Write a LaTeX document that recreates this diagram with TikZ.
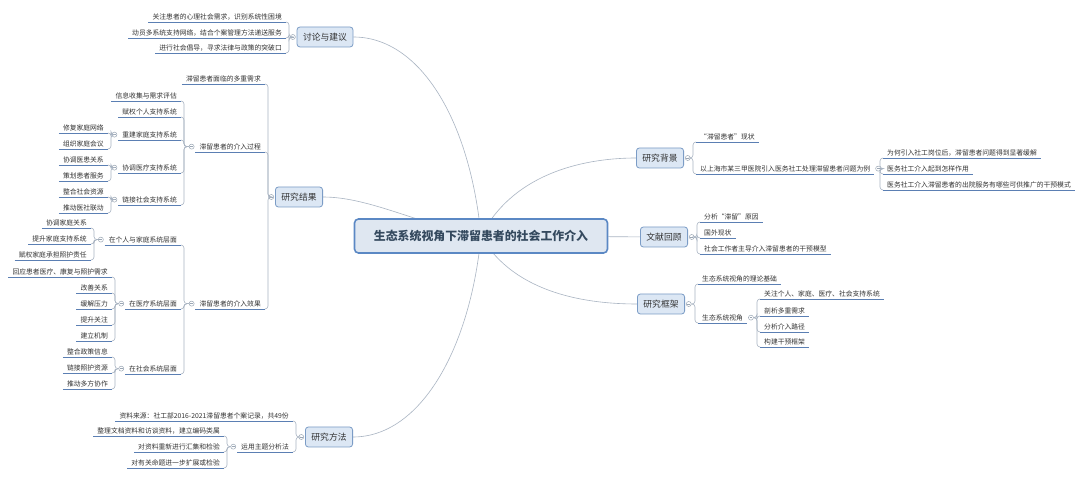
\documentclass[tikz,border=0pt]{standalone}
\usepackage{fontspec}
\newfontfamily\cjk{Noto Sans CJK SC}
\usetikzlibrary{positioning, calc, backgrounds}
\definecolor{rootfill}{HTML}{DFE7F1}
\definecolor{rootborder}{HTML}{5B88C4}
\definecolor{roottext}{HTML}{34495E}
\definecolor{topicfill}{HTML}{DCE7F4}
\definecolor{topicborder}{HTML}{7B9CC6}
\definecolor{ulineblue}{HTML}{5B7FB3}
\definecolor{linegray}{HTML}{A9B4C2}
\definecolor{textgray}{HTML}{333333}
\definecolor{togglegray}{HTML}{9AA6B4}

\begin{document}
\begin{tikzpicture}[x=1pt, y=-1pt,
    rootbox/.style={draw=rootborder, fill=rootfill, line width=1.6pt,
      rounded corners=4pt, minimum width=253pt, minimum height=34pt,
      font=\cjk\bfseries\fontsize{11.9}{14}\selectfont, text=roottext},
    topic/.style={draw=topicborder, fill=topicfill, line width=0.8pt,
      rounded corners=3pt, minimum height=20pt, inner xsep=6pt,
      font=\cjk\fontsize{8.8}{10}\selectfont, text=textgray},
    leaf/.style={inner xsep=4pt, inner ysep=2pt,
      font=\cjk\fontsize{6.8}{8}\selectfont, text=textgray},
    lleaf/.style={leaf, anchor=south east},
    rleaf/.style={leaf, anchor=south west},
    toggle/.style={circle, draw=togglegray, fill=white, line width=0.5pt,
      minimum size=5pt, inner sep=0pt,
      path picture={\draw[togglegray, line width=0.5pt]
        ([xshift=-1.4pt]path picture bounding box.center) --
        ([xshift=1.4pt]path picture bounding box.center);}},
    mainline/.style={draw=linegray, line width=0.6pt},
    conn/.style={draw=linegray, line width=0.6pt, rounded corners=3pt},
    uline/.style={draw=ulineblue, line width=0.9pt}
  ]
  \useasboundingbox (0,0) rectangle (1080,478);

  \node[rootbox] (root) at (481,236) {生态系统视角下滞留患者的社会工作介入};
  \node[topic] (tl) at (325,37) {讨论与建议};
  \node[topic] (res) at (299,197) {研究结果};
  \node[topic] (meth) at (329,437) {研究方法};
  \node[topic] (bg) at (660,158) {研究背景};
  \node[topic] (lit) at (664,237) {文献回顾};
  \node[topic] (fw) at (661,304) {研究框架};

  \node[lleaf] (d1) at (286,22) {关注患者的心理社会需求，识别系统性困境};
  \node[lleaf] (d2) at (286,38) {动员多系统支持网络，结合个案管理方法递送服务};
  \node[lleaf] (d3) at (286,53) {进行社会倡导，寻求法律与政策的突破口};

  \node[lleaf] (r1) at (265,84) {滞留患者面临的多重需求};
  \node[lleaf] (r2) at (265,152) {滞留患者的介入过程};
  \node[lleaf] (r3) at (265,309) {滞留患者的介入效果};

  \node[lleaf] (p1) at (181,101) {信息收集与需求评估};
  \node[lleaf] (p2) at (181,117) {赋权个人支持系统};
  \node[lleaf] (p3) at (181,140) {重建家庭支持系统};
  \node[lleaf] (p4) at (181,173) {协调医疗支持系统};
  \node[lleaf] (p5) at (181,205) {链接社会支持系统};
  \node[lleaf] (p3a) at (108,133) {修复家庭网络};
  \node[lleaf] (p3b) at (108,149) {组织家庭会议};
  \node[lleaf] (p4a) at (108,165) {协调医患关系};
  \node[lleaf] (p4b) at (108,181) {策划患者服务};
  \node[lleaf] (p5a) at (108,197) {整合社会资源};
  \node[lleaf] (p5b) at (108,213) {推动医社联动};

  \node[lleaf] (e1) at (181,245) {在个人与家庭系统层面};
  \node[lleaf] (e2) at (181,309) {在医疗系统层面};
  \node[lleaf] (e3) at (181,374) {在社会系统层面};
  \node[lleaf] (e1a) at (91,228) {协调家庭关系};
  \node[lleaf] (e1b) at (91,244) {提升家庭支持系统};
  \node[lleaf] (e1c) at (91,260) {赋权家庭承担照护责任};
  \node[lleaf] (e2a) at (112,277) {回应患者医疗、康复与照护需求};
  \node[lleaf] (e2b) at (112,293) {改善关系};
  \node[lleaf] (e2c) at (112,309) {缓解压力};
  \node[lleaf] (e2d) at (112,325) {提升关注};
  \node[lleaf] (e2e) at (112,341) {建立机制};
  \node[lleaf] (e3a) at (112,357) {整合政策信息};
  \node[lleaf] (e3b) at (112,373) {链接照护资源};
  \node[lleaf] (e3c) at (112,389) {推动多方协作};

  \node[lleaf] (m1) at (293,421) {资料来源：社工部2016-2021滞留患者个案记录，共49份};
  \node[lleaf] (m2) at (293,452) {运用主题分析法};
  \node[lleaf] (m2a) at (224,436) {整理文档资料和访谈资料，建立编码类属};
  \node[lleaf] (m2b) at (224,452) {对资料重新进行汇集和检验};
  \node[lleaf] (m2c) at (224,468) {对有关命题进一步扩展或检验};

  \node[rleaf] (b1) at (696,142) {“滞留患者”现状};
  \node[rleaf] (b2) at (696,174) {以上海市某三甲医院引入医务社工处理滞留患者问题为例};
  \node[rleaf] (b2a) at (883,158) {为何引入社工岗位后，滞留患者问题得到显著缓解};
  \node[rleaf] (b2b) at (883,174) {医务社工介入起到怎样作用};
  \node[rleaf] (b2c) at (883,190) {医务社工介入滞留患者的出院服务有哪些可供推广的干预模式};

  \node[rleaf] (l1) at (700,222) {分析“滞留”原因};
  \node[rleaf] (l2) at (700,238) {国外现状};
  \node[rleaf] (l3) at (700,254) {社会工作者主导介入滞留患者的干预模型};

  \node[rleaf] (f1) at (698,284) {生态系统视角的理论基础};
  \node[rleaf] (f2) at (698,323) {生态系统视角};
  \node[rleaf] (f2a) at (760,299) {关注个人、家庭、医疗、社会支持系统};
  \node[rleaf] (f2b) at (760,316) {剖析多重需求};
  \node[rleaf] (f2c) at (760,332) {分析介入路径};
  \node[rleaf] (f2d) at (760,347) {构建干预框架};

  \node[toggle, left=1pt of tl] (ttl) {};
  \node[toggle, left=1pt of res] (tres) {};
  \node[toggle, left=1pt of meth] (tmeth) {};
  \node[toggle, right=1pt of bg] (tbg) {};
  \node[toggle, right=1pt of lit] (tlit) {};
  \node[toggle, right=1pt of fw] (tfw) {};
  \node[toggle, left=1pt of r2] (tr2) {};
  \node[toggle, left=1pt of r3] (tr3) {};
  \node[toggle, left=1pt of p3] (tp3) {};
  \node[toggle, left=1pt of p4] (tp4) {};
  \node[toggle, left=1pt of p5] (tp5) {};
  \node[toggle, left=1pt of e1] (te1) {};
  \node[toggle, left=1pt of e2] (te2) {};
  \node[toggle, left=1pt of e3] (te3) {};
  \node[toggle, left=1pt of m2] (tm2) {};
  \node[toggle, right=1pt of b2] (tb2) {};
  \node[toggle, right=1pt of f2] (tf2) {};

  \foreach \t/\c in {ttl/d1, ttl/d2, ttl/d3, tres/r1, tres/r2, tres/r3,
      tr2/p1, tr2/p2, tr2/p3, tr2/p4, tr2/p5, tp3/p3a, tp3/p3b,
      tp4/p4a, tp4/p4b, tp5/p5a, tp5/p5b, tr3/e1, tr3/e2, tr3/e3,
      te1/e1a, te1/e1b, te1/e1c, te2/e2a, te2/e2b, te2/e2c, te2/e2d,
      te2/e2e, te3/e3a, te3/e3b, te3/e3c, tmeth/m1, tmeth/m2,
      tm2/m2a, tm2/m2b, tm2/m2c}
    \draw[conn] (\t.west) -| ($(\c.south east)+(3,0)$) -- (\c.south east);
  \foreach \t/\c in {tbg/b1, tbg/b2, tb2/b2a, tb2/b2b, tb2/b2c,
      tlit/l1, tlit/l2, tlit/l3, tfw/f1, tfw/f2,
      tf2/f2a, tf2/f2b, tf2/f2c, tf2/f2d}
    \draw[conn] (\t.east) -| ($(\c.south west)+(-3,0)$) -- (\c.south west);

  \foreach \n in {d1, d2, d3, r1, r2, r3, p1, p2, p3, p4, p5, p3a, p3b,
      p4a, p4b, p5a, p5b, e1, e2, e3, e1a, e1b, e1c, e2a, e2b, e2c, e2d,
      e2e, e3a, e3b, e3c, m1, m2, m2a, m2b, m2c, b1, b2, b2a, b2b, b2c,
      l1, l2, l3, f1, f2, f2a, f2b, f2c, f2d}
    \draw[uline] (\n.south west) -- (\n.south east);

  \begin{scope}[on background layer]
    \fill[white] (0,0) rectangle (1080,478);
    \draw[mainline] (root.center) .. controls (470,120) and (420,37) .. (tl.east);
    \draw[mainline] (root.center) .. controls (420,225) and (370,197) .. (res.east);
    \draw[mainline] (root.center) .. controls (470,350) and (420,437) .. (meth.east);
    \draw[mainline] (root.center) .. controls (515,170) and (590,158) .. (bg.west);
    \draw[mainline] (root) -- (lit);
    \draw[mainline] (root.center) .. controls (515,295) and (590,304) .. (fw.west);
  \end{scope}
\end{tikzpicture}
\end{document}
